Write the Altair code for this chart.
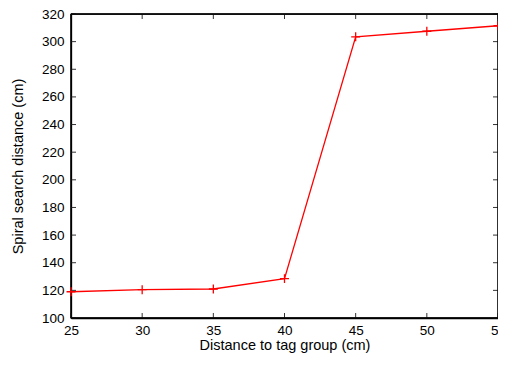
import altair as alt
import pandas as pd

distance = [25, 30, 35, 40, 45, 50, 55]
spiral = [119, 120.5, 121, 128.5, 303.5, 307.5, 311.5]
x_ticks = [25, 30, 35, 40, 45, 50, 55]
y_ticks = [100, 120, 140, 160, 180, 200, 220, 240, 260, 280, 300, 320]
x_range = [25, 55]
y_range = [100, 320]

W, H = 427, 304
TICK = 5
FONT = "Liberation Sans"

df = pd.DataFrame({"x": distance, "y": spiral})
xt = pd.DataFrame({"x": x_ticks})
yt = pd.DataFrame({"y": y_ticks})
hb = pd.DataFrame({"x0": [x_range[0]] * 2, "x1": [x_range[1]] * 2, "y": y_range})
vb = pd.DataFrame({"y0": [y_range[0]] * 2, "y1": [y_range[1]] * 2, "x": x_range})

xscale = alt.Scale(domain=x_range, nice=False, zero=False)
yscale = alt.Scale(domain=y_range, nice=False, zero=False)

XT = "Distance to tag group (cm)"
YT = "Spiral search distance (cm)"
xaxis = alt.Axis(values=x_ticks, labelPadding=5, titlePadding=2)
yaxis = alt.Axis(values=y_ticks, labelPadding=7, titlePadding=16)

def X(f):
    return alt.X(f, type="quantitative", scale=xscale, axis=xaxis, title=XT)

def Y(f):
    return alt.Y(f, type="quantitative", scale=yscale, axis=yaxis, title=YT)

line = alt.Chart(df).mark_line(color="#ff0000", strokeWidth=1.3, clip=False).encode(
    x=X("x"), y=Y("y"))
pts = alt.Chart(df).mark_point(
    shape="M-1,0L1,0M0,-1L0,1", size=80, color="#ff0000", filled=False,
    strokeWidth=1.3, opacity=1, clip=False
).encode(x=X("x"), y=Y("y"))

tick_style = dict(color="#333", strokeWidth=1)
xb = alt.Chart(xt).mark_rule(**tick_style).encode(
    x=X("x"), y=alt.value(H), y2=alt.value(H - TICK))
xtop = alt.Chart(xt).mark_rule(**tick_style).encode(
    x=X("x"), y=alt.value(0), y2=alt.value(TICK))
yl = alt.Chart(yt).mark_rule(**tick_style).encode(
    y=Y("y"), x=alt.value(0), x2=alt.value(TICK))
yr = alt.Chart(yt).mark_rule(**tick_style).encode(
    y=Y("y"), x=alt.value(W), x2=alt.value(W - TICK))

fs = dict(color="#000", strokeWidth=1.3)
f_h = alt.Chart(hb).mark_rule(**fs).encode(x=X("x0"), x2="x1:Q", y=Y("y"))
f_v = alt.Chart(vb).mark_rule(**fs).encode(y=Y("y0"), y2="y1:Q", x=X("x"))

chart = alt.layer(line, xb, xtop, yl, yr, f_h, f_v, pts).properties(
    width=W, height=H,
    background="white",
    autosize=alt.AutoSizeParams(type="none"),
    padding={"left": 63, "top": 6, "right": 0, "bottom": 37},
).configure_view(
    stroke="#000", strokeWidth=1.3
).configure_axis(
    ticks=False, domain=True, domainColor="#000", domainWidth=1.3, grid=False,
    labelFontSize=13.5, titleFontSize=14.5,
    titleFontWeight="normal", labelColor="#000", titleColor="#000",
    labelFont=FONT, titleFont=FONT, labelFlush=False, labelOverlap=False,
)

chart.save("out.html", embed_options={"renderer": "svg", "actions": False})
